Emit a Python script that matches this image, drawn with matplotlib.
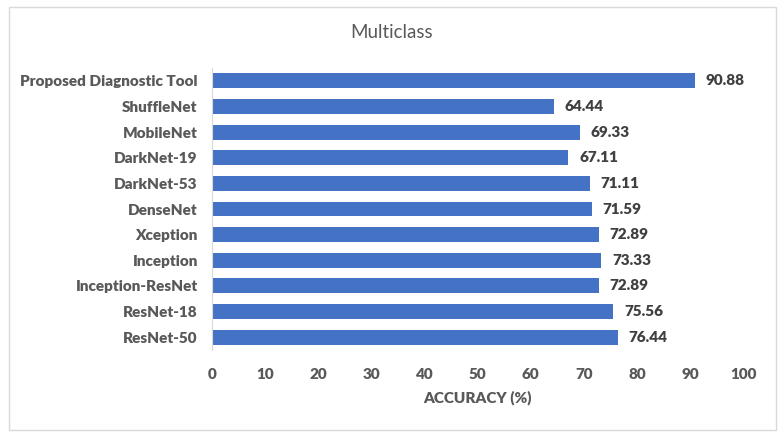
import numpy as np
import matplotlib.pyplot as plt
from matplotlib.patches import Rectangle

# data, bottom to top
models = ["ResNet-50", "ResNet-18", "Inception-ResNet", "Inception", "Xception",
          "DenseNet", "DarkNet-53", "DarkNet-19", "MobileNet", "ShuffleNet",
          "Proposed Diagnostic Tool"]
accuracy = [76.44, 75.56, 72.89, 73.33, 72.89, 71.59, 71.11, 67.11, 69.33, 64.44, 90.88]
xticks = [0, 10, 20, 30, 40, 50, 60, 70, 80, 90, 100]

plt.rcParams['font.family'] = ['Lato', 'DejaVu Sans']
txt = '#595959'

fig = plt.figure(figsize=(7.84, 4.4), dpi=100)
ax = fig.add_axes([0.270, 0.2045, 0.678, 0.641])

y = np.arange(len(models))
ax.barh(y, accuracy, height=0.58, color='#4472C4')

# value labels
for yi, v in zip(y, accuracy):
    ax.text(v + 2, yi, f"{v:.2f}", va='center', ha='left', fontsize=11,
            fontweight='heavy', color='#404040')

ax.set_xlim(0, 100)
ax.set_ylim(-0.5, len(models) - 0.5)
ax.set_yticks(y)
ax.set_yticklabels(models, fontsize=11, fontweight='heavy', color=txt)
ax.set_xticks(xticks)
ax.set_xticklabels([str(t) for t in xticks], fontsize=11, fontweight='heavy', color=txt)
ax.tick_params(axis='both', length=0)
ax.tick_params(axis='y', pad=10)
ax.tick_params(axis='x', pad=13)

for s in ['top', 'right', 'bottom']:
    ax.spines[s].set_visible(False)
ax.spines['left'].set_color('#D9D9D9')

ax.set_xlabel("ACCURACY (%)", fontsize=11, fontweight='heavy', color=txt, labelpad=7)
fig.text(0.5, 0.925, "Multiclass", ha='center', va='center', fontsize=13.5, color=txt)

# outer chart border
fig.patches.append(Rectangle((9 / 784, 1 - 430 / 440), 767 / 784, 423 / 440,
                             transform=fig.transFigure, fill=False,
                             edgecolor='#D9D9D9', linewidth=1))

fig.savefig("out.png", dpi=100)
